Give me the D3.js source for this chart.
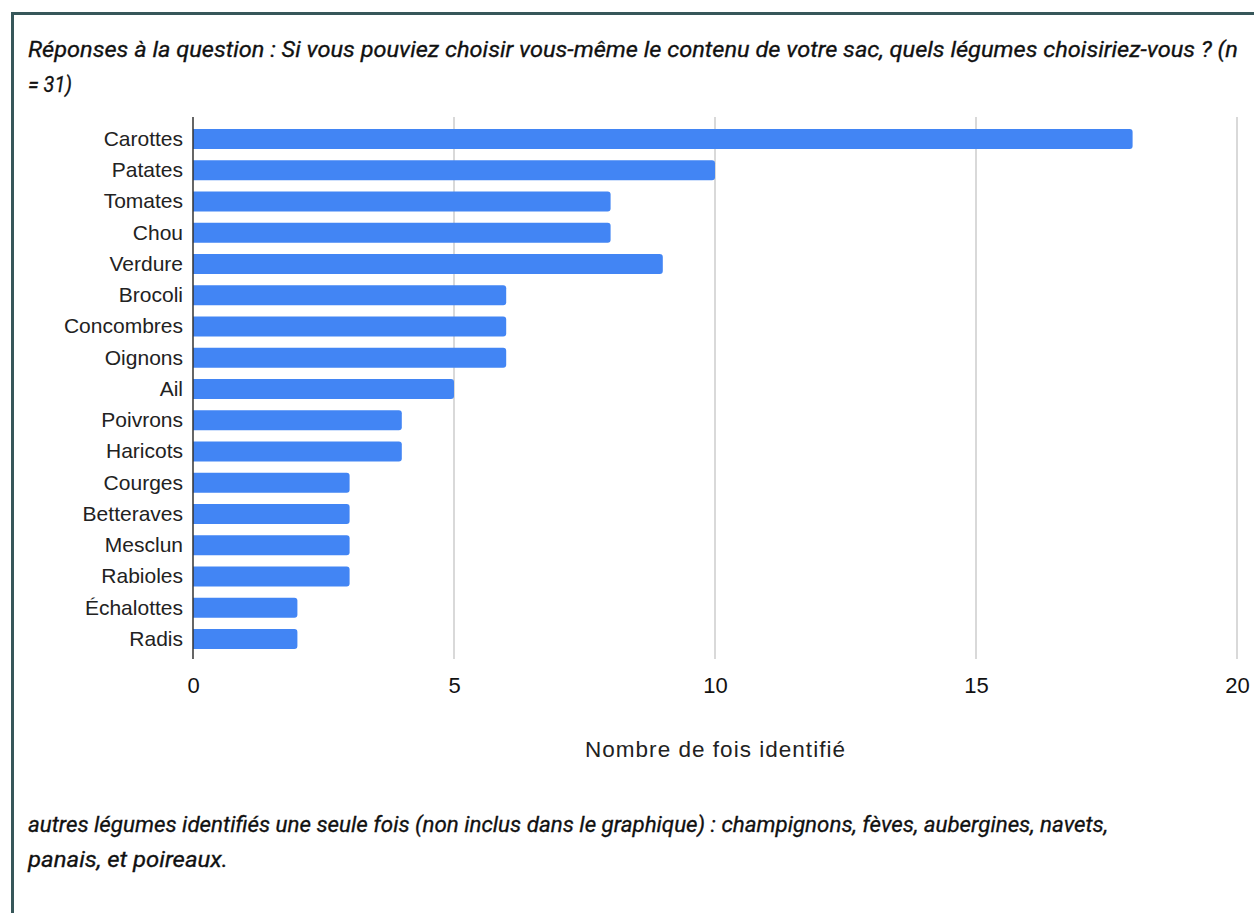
<!DOCTYPE html>
<html><head><meta charset="utf-8">
<script src="https://cdn.jsdelivr.net/npm/d3@7"></script>
<style>
html,body{margin:0;padding:0;background:#fff;overflow:hidden;}
svg{display:block;}
</style></head>
<body>
<svg id="c" width="1254" height="913"></svg>
<script>
const categories = ["Carottes","Patates","Tomates","Chou","Verdure","Brocoli","Concombres","Oignons","Ail","Poivrons","Haricots","Courges","Betteraves","Mesclun","Rabioles","Échalottes","Radis"];
const values = [18,10,8,8,9,6,6,6,5,4,4,3,3,3,3,2,2];
const xTicks = [0,5,10,15,20];
const titleLines = ["Réponses à la question : Si vous pouviez choisir vous-même le contenu de votre sac, quels légumes choisiriez-vous ? (n","= 31)"];
const footerLines = ["autres légumes identifiés une seule fois (non inclus dans le graphique) : champignons, fèves, aubergines, navets,","panais, et poireaux."];
const xTitle = "Nombre de fois identifié";

const svg = d3.select("#c");
// frame
svg.append("rect").attr("x",12.5).attr("y",13.5).attr("width",1260).attr("height",920)
  .attr("fill","#fff").attr("stroke","#37575a").attr("stroke-width",3);

const italic = {family:"Roboto, 'Open Sans', sans-serif", size:22};
const titleW = [1210, 44];
const titleY = [57, 92];
titleLines.forEach((t,i)=>{
  svg.append("text").attr("x",28).attr("y",titleY[i]).text(t)
    .attr("font-family",italic.family).attr("font-style","italic").attr("font-size",italic.size)
    .attr("fill","#111").attr("stroke","#111").attr("stroke-width",0.3)
    .attr("textLength",titleW[i]).attr("lengthAdjust","spacingAndGlyphs");
});
const footW = [1080, 200];
const footY = [832, 867];
footerLines.forEach((t,i)=>{
  svg.append("text").attr("x",28).attr("y",footY[i]).text(t)
    .attr("font-family",italic.family).attr("font-style","italic").attr("font-size",italic.size)
    .attr("fill","#111").attr("stroke","#111").attr("stroke-width",0.3)
    .attr("textLength",footW[i]).attr("lengthAdjust","spacingAndGlyphs");
});

const x = d3.scaleLinear().domain([0,20]).range([193,1237]);
const y = d3.scaleBand().domain(categories).range([123.4,654.6]).paddingInner(0.36).paddingOuter(0.18);

const gridTop = 117, gridBot = 659;
// grid
svg.append("g").selectAll("line").data(xTicks.filter(d=>d>0)).join("line")
  .attr("x1",d=>x(d)).attr("x2",d=>x(d)).attr("y1",gridTop).attr("y2",gridBot)
  .attr("stroke","#cccccc").attr("stroke-width",1.5);

// bars
const r = 3;
svg.append("g").selectAll("path").data(categories).join("path")
  .attr("fill","#4285f4")
  .attr("d",(c,i)=>{
    const x0=x(0), x1=x(values[i]), y0=y(c), h=y.bandwidth();
    return `M${x0},${y0}H${x1-r}Q${x1},${y0} ${x1},${y0+r}V${y0+h-r}Q${x1},${y0+h} ${x1-r},${y0+h}H${x0}Z`;
  });

// zero axis line
svg.append("line").attr("x1",x(0)).attr("x2",x(0)).attr("y1",gridTop).attr("y2",gridBot)
  .attr("stroke","#333").attr("stroke-width",1.5);

const sans = "'Liberation Sans', Arial, sans-serif";
// y labels via axis
const yAxis = svg.append("g").attr("transform",`translate(${x(0)-10},0)`)
  .call(d3.axisLeft(y).tickSize(0).tickPadding(0));
yAxis.select(".domain").remove();
yAxis.selectAll("text").attr("font-family",sans).attr("font-size",21).attr("fill","#222").attr("dy","0.33em");

// x tick labels via axis
const xAxis = svg.append("g").attr("transform",`translate(0,${gridBot})`)
  .call(d3.axisBottom(x).tickValues(xTicks).tickSize(0));
xAxis.select(".domain").remove();
xAxis.selectAll("text").attr("font-family",sans).attr("font-size",22).attr("fill","#111").attr("y",34).attr("dy",0);

svg.append("text").attr("x",715).attr("y",757).attr("text-anchor","middle").text(xTitle)
  .attr("font-family",sans).attr("font-size",22.5).attr("fill","#222")
  .attr("textLength",260).attr("lengthAdjust","spacing");
</script>
</body></html>
